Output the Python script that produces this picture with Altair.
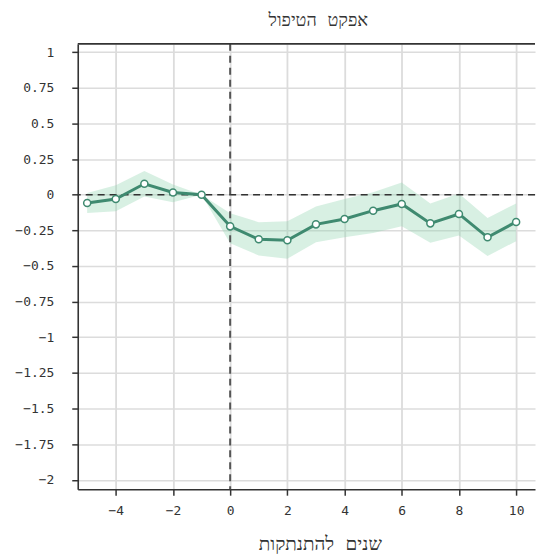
import altair as alt
import pandas as pd

# ---- data ----
years = [-5, -4, -3, -2, -1, 0, 1, 2, 3, 4, 5, 6, 7, 8, 9, 10]
estimate = [-0.058, -0.030, 0.077, 0.016, 0.0, -0.222, -0.313, -0.320,
            -0.208, -0.170, -0.112, -0.065, -0.201, -0.135, -0.299, -0.191]
lower = [-0.128, -0.116, -0.012, -0.052, 0.0, -0.340, -0.426, -0.449,
         -0.333, -0.298, -0.268, -0.221, -0.337, -0.286, -0.430, -0.326]
upper = [0.012, 0.067, 0.167, 0.072, 0.0, -0.130, -0.193, -0.186,
         -0.083, -0.030, 0.017, 0.086, -0.061, 0.009, -0.163, -0.061]

x_ticks = [-4, -2, 0, 2, 4, 6, 8, 10]
y_ticks = [1, 0.75, 0.5, 0.25, 0, -0.25, -0.5, -0.75, -1, -1.25, -1.5, -1.75, -2]
reference_value = [0]

title_text = "אפקט הטיפול"
x_title = "שנים להתנתקות"

df = pd.DataFrame({"year": years, "est": estimate, "lo": lower, "hi": upper})
ref = pd.DataFrame({"zero": reference_value})

LINE = "#3f8a70"
FONT = "DejaVu Sans Mono"
INK = "#333333"

x_scale = alt.Scale(domain=[-5.33, 10.66], nice=False, zero=False)
y_scale = alt.Scale(domain=[-2.066, 1.058], nice=False, zero=False)

x_axis = alt.Axis(values=x_ticks, format="d", grid=True, gridColor="#dcdcdc",
                  gridWidth=1.8, domain=True, domainColor=INK, domainWidth=1.6,
                  tickSize=6, tickColor=INK, tickWidth=1.5, labelPadding=9,
                  labelFontSize=13, labelFont=FONT, labelColor=INK,
                  labelOverlap=False, title=x_title, titleFont=FONT,
                  titleFontSize=19, titleFontWeight="normal", titleColor=INK,
                  titlePadding=18, titleX=243)
y_axis = alt.Axis(values=y_ticks, format=".2~f", grid=True, gridColor="#dcdcdc",
                  gridWidth=1.5, domain=True, domainColor=INK, domainWidth=1.6,
                  tickSize=6, tickColor=INK, tickWidth=1.5, labelPadding=18,
                  labelFontSize=13, labelFont=FONT, labelColor=INK,
                  labelOverlap=False, title=None)

X = dict(scale=x_scale, axis=x_axis)
Y = dict(scale=y_scale, axis=y_axis)

band = alt.Chart(df).mark_area(color="#8fd4b0", opacity=0.35).encode(
    x=alt.X("year:Q", **X),
    y=alt.Y("lo:Q", **Y),
    y2="hi:Q",
)

top_border = alt.Chart(ref).mark_rule(color=INK, strokeWidth=1.6).encode(
    y=alt.value(0)
)

hrule = alt.Chart(ref).mark_rule(color=INK, strokeWidth=1.5, strokeDash=[7, 5]).encode(
    y=alt.Y("zero:Q", **Y)
)
vrule = alt.Chart(ref).mark_rule(color="#555555", strokeWidth=2, strokeDash=[7, 5]).encode(
    x=alt.X("zero:Q", **X)
)

line = alt.Chart(df).mark_line(color=LINE, strokeWidth=3).encode(
    x=alt.X("year:Q", **X), y=alt.Y("est:Q", **Y)
)
points = alt.Chart(df).mark_point(filled=True, fill="white", stroke=LINE,
                                  strokeWidth=1.5, size=50, opacity=1).encode(
    x=alt.X("year:Q", **X), y=alt.Y("est:Q", **Y)
)

chart = alt.layer(band, hrule, vrule, line, points, top_border).properties(
    width=459,
    height=447,
    padding={"left": 6, "top": 3, "right": 0, "bottom": 0},
    title=alt.TitleParams(title_text, font=FONT, fontSize=18, fontWeight="normal",
                          color=INK, offset=13, dx=12),
).configure_view(stroke=None)

chart.save("out.html", embed_options={"renderer": "svg", "actions": False})
